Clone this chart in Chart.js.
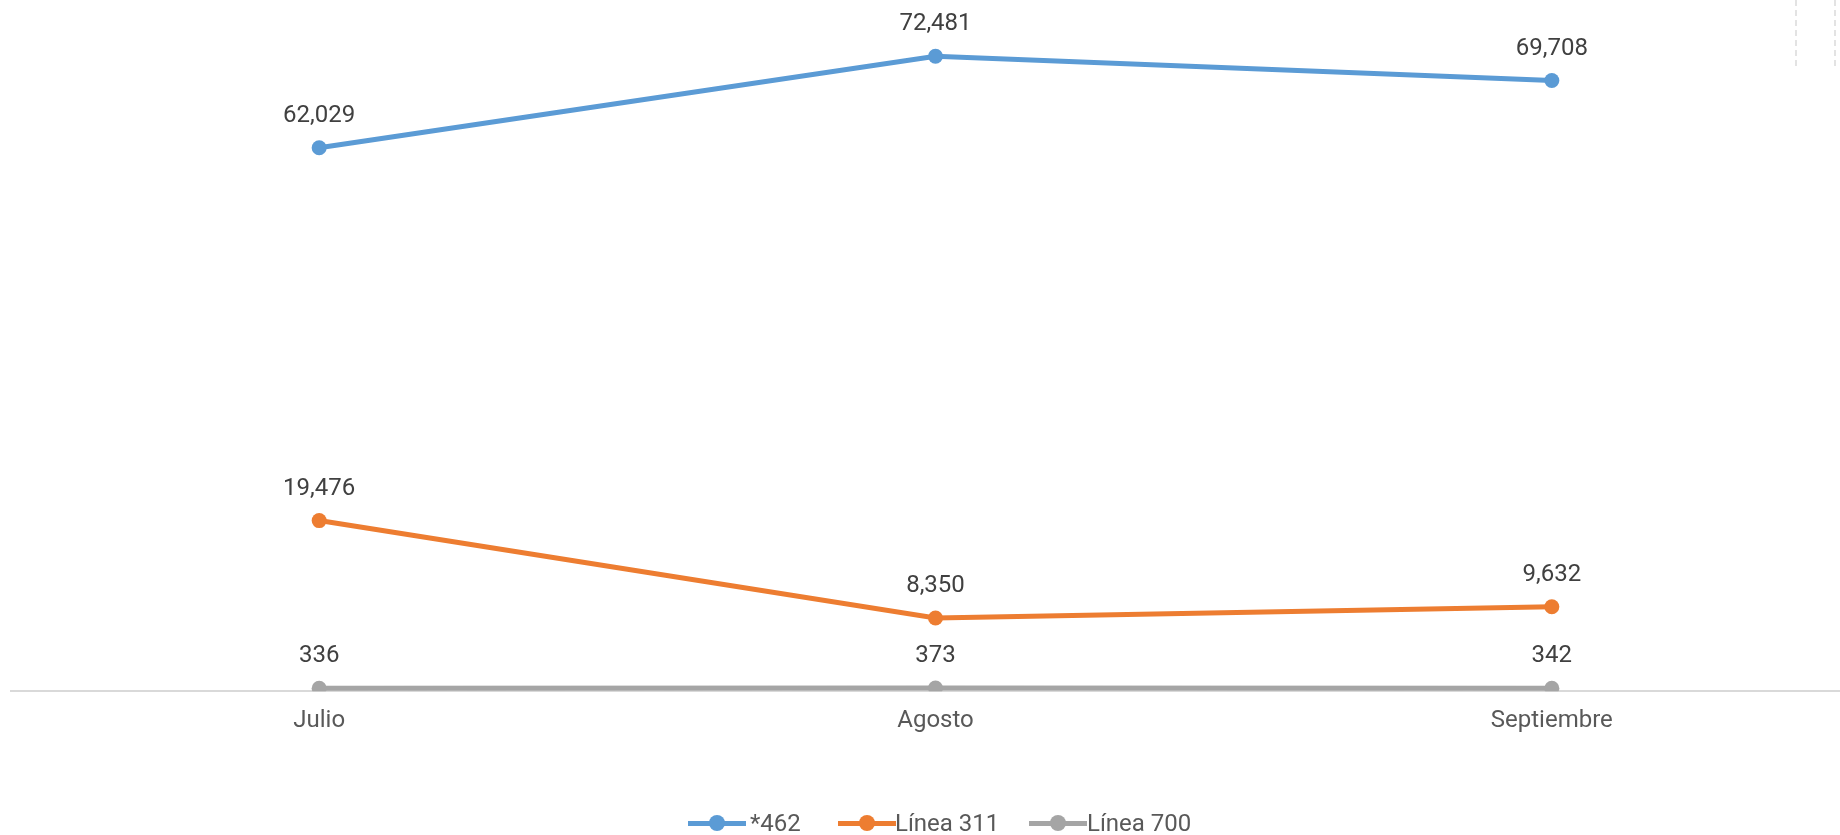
<!DOCTYPE html>
<html>
<head>
<meta charset="utf-8">
<script src="https://cdn.jsdelivr.net/npm/chart.js@4/dist/chart.umd.min.js"></script>
<style>
  body { margin: 0; background: #fff; overflow: hidden; width: 1840px; height: 835px; position: relative; font-family: Roboto, "Noto Sans", sans-serif; }
  #chart { position: absolute; left: 0; top: 0; }
  .dash { position: absolute; top: 0; height: 66px; border-left: 2px dashed #e3e3e3; }
  .mark { position: absolute; top: 807px; width: 58px; height: 32px; }
  .mark .ln { position: absolute; left: 0; right: 0; top: 14px; height: 5px; }
  .mark .dot { position: absolute; left: 21px; top: 8px; width: 16px; height: 16px; border-radius: 50%; }
  .name { position: absolute; top: 807px; line-height: 32px; font-size: 24px; color: #595959; white-space: nowrap; }
</style>
</head>
<body>
<canvas id="chart" width="1866" height="835"></canvas>
<div class="dash" style="left:1795px"></div>
<div class="dash" style="left:1834px"></div>
<div id="legend"></div>
<script>
// months on the x axis
const months = ["Julio", "Agosto", "Septiembre"];
// series values
const serie462 = [62029, 72481, 69708];
const linea311 = [19476, 8350, 9632];
const linea700 = [336, 373, 342];
const seriesNames = ["*462", "Línea 311", "Línea 700"];
const seriesColors = ["#5B9BD5", "#ED7D31", "#A5A5A5"];

// value labels above each point
const pointLabels = {
    id: "pointLabels",
    afterDatasetsDraw(chart) {
        const ctx = chart.ctx;
        ctx.save();
        ctx.font = "24px Roboto";
        ctx.fillStyle = "#404040";
        ctx.textAlign = "center";
        ctx.textBaseline = "middle";
        chart.data.datasets.forEach((ds, i) => {
            chart.getDatasetMeta(i).data.forEach((pt, j) => {
                ctx.fillText(ds.data[j].toLocaleString("en-US"), pt.x, pt.y - 32);
            });
        });
        ctx.restore();
    }
};

const allSeries = [serie462, linea311, linea700];
const datasets = allSeries.map((values, i) => ({
    label: seriesNames[i],
    data: values,
    borderColor: seriesColors[i],
    backgroundColor: seriesColors[i],
    borderWidth: 5,
    pointRadius: 7.5,
    pointHoverRadius: 7.5,
    pointBorderWidth: 0,
    tension: 0
}));

new Chart(document.getElementById("chart"), {
    type: "line",
    data: { labels: months, datasets: datasets },
    plugins: [pointLabels],
    options: {
        responsive: false,
        animation: false,
        layout: { autoPadding: false, padding: { left: 11, right: 6, top: 0, bottom: 85 } },
        plugins: { legend: { display: false }, tooltip: { enabled: false } },
        scales: {
            x: {
                offset: true,
                grid: { display: false, drawTicks: false },
                border: { display: true, color: "#D9D9D9", width: 2 },
                ticks: { color: "#595959", font: { family: "Roboto", size: 24 }, padding: 15 }
            },
            y: {
                display: false,
                min: 0,
                max: 78900
            }
        }
    }
});

// legend built from the same names and colours
const markLeft = [688, 838, 1029];
const nameLeft = [750, 895, 1087];
const legend = document.getElementById("legend");
seriesNames.forEach((name, i) => {
    const mark = document.createElement("div");
    mark.className = "mark";
    mark.style.left = markLeft[i] + "px";
    mark.innerHTML = '<div class="ln" style="background:' + seriesColors[i] + '"></div>' +
        '<div class="dot" style="background:' + seriesColors[i] + '"></div>';
    legend.appendChild(mark);
    const label = document.createElement("span");
    label.className = "name";
    label.style.left = nameLeft[i] + "px";
    label.textContent = name;
    legend.appendChild(label);
});
</script>
</body>
</html>
